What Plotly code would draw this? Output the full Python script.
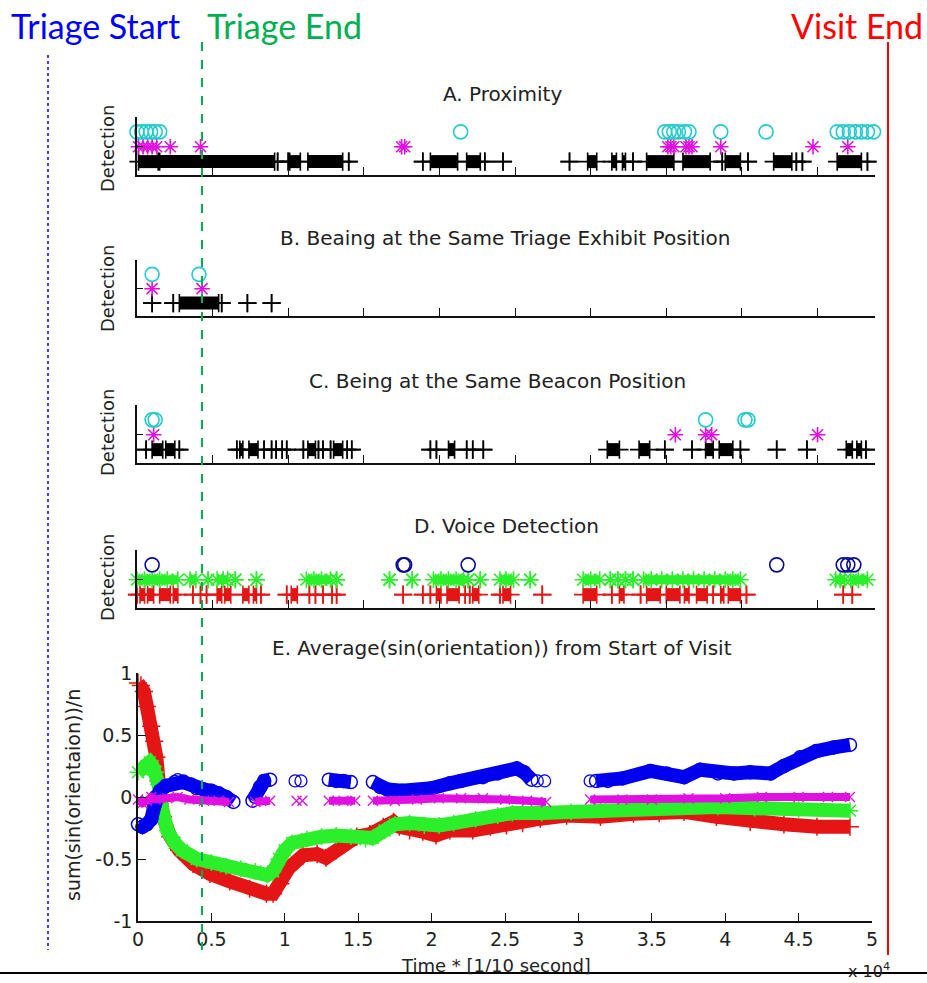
import plotly.graph_objects as go

# ---------------- data (time in units of 10^4 x 1/10 s) ----------------
# Panel A - Proximity
A_plus_start = [0.01, 0.15, 0.93, 1.00, 1.01, 1.13, 1.40, 1.89, 1.94, 2.18, 2.30, 2.42, 2.86, 2.98, 3.14, 3.21, 3.28, 3.37, 3.61, 3.87, 3.89, 4.04, 4.21, 4.36, 4.40, 4.63, 4.83]
A_plus_end   = [0.14, 0.91, 0.93, 1.00, 1.08, 1.36, 1.40, 1.89, 2.12, 2.27, 2.30, 2.42, 2.86, 3.04, 3.17, 3.23, 3.28, 3.55, 3.79, 3.87, 3.99, 4.04, 4.33, 4.36, 4.40, 4.79, 4.83]
A_star = [0.01, 0.04, 0.07, 0.10, 0.13, 0.22, 0.42, 1.75, 1.77, 3.51, 3.53, 3.55, 3.63, 3.65, 3.67, 3.86, 4.47, 4.70]
A_circ = [0.00, 0.03, 0.06, 0.09, 0.12, 0.15, 2.14, 3.49, 3.52, 3.55, 3.58, 3.62, 3.65, 3.86, 4.16, 4.63, 4.67, 4.71, 4.75, 4.79, 4.83, 4.87]

# Panel B - Being at the same triage exhibit position
B_plus_start = [0.10, 0.24, 0.28, 0.56, 0.73, 0.89]
B_plus_end   = [0.10, 0.24, 0.54, 0.56, 0.73, 0.89]
B_star = [0.10, 0.43]
B_circ = [0.10, 0.41]

# Panel C - Being at the same beacon position
C_plus_start = [0.06, 0.10, 0.19, 0.28, 0.66, 0.68, 0.74, 0.84, 0.89, 0.92, 0.96, 0.99, 1.10, 1.13, 1.20, 1.23, 1.28, 1.30, 1.39, 1.42, 1.94, 1.98, 2.06, 2.18, 2.22, 2.29, 3.11, 3.32, 3.49, 3.67, 3.76, 3.85, 3.99, 4.23, 4.43, 4.69, 4.76, 4.82]
C_plus_end   = [0.06, 0.17, 0.25, 0.28, 0.66, 0.70, 0.80, 0.84, 0.89, 0.92, 0.96, 0.99, 1.10, 1.18, 1.20, 1.23, 1.28, 1.36, 1.39, 1.42, 1.94, 1.98, 2.10, 2.18, 2.22, 2.29, 3.19, 3.39, 3.49, 3.67, 3.81, 3.94, 3.99, 4.23, 4.43, 4.73, 4.79, 4.82]
C_star = [0.11, 3.56, 3.76, 3.80, 4.50]
C_circ = [0.10, 0.12, 3.76, 4.02, 4.04]

# Panel D - Voice detection
D_red_start = [0.00, 0.02, 0.07, 0.15, 0.24, 0.37, 0.42, 0.46, 0.53, 0.58, 0.70, 0.77, 0.82, 0.99, 1.02, 1.14, 1.18, 1.23, 1.29, 1.32, 1.76, 1.89, 1.94, 1.98, 2.05, 2.17, 2.20, 2.22, 2.40, 2.42, 2.68, 2.95, 3.14, 3.19, 3.33, 3.37, 3.50, 3.62, 3.70, 3.81, 3.86, 3.91, 4.03, 4.67, 4.73]
D_red_end   = [0.00, 0.05, 0.11, 0.22, 0.27, 0.37, 0.42, 0.46, 0.56, 0.62, 0.74, 0.79, 0.82, 0.99, 1.06, 1.14, 1.18, 1.23, 1.29, 1.32, 1.76, 1.89, 1.94, 2.01, 2.13, 2.17, 2.20, 2.26, 2.40, 2.47, 2.68, 3.04, 3.14, 3.22, 3.33, 3.46, 3.59, 3.65, 3.77, 3.81, 3.88, 3.99, 4.03, 4.67, 4.73]
D_green_start = [0.00, 0.35, 0.47, 0.53, 0.65, 0.79, 1.12, 1.32, 1.67, 1.82, 1.96, 2.19, 2.27, 2.40, 2.60, 2.95, 3.13, 3.18, 3.23, 3.28, 3.35, 4.62, 4.72]
D_green_end   = [0.27, 0.39, 0.47, 0.60, 0.65, 0.79, 1.28, 1.32, 1.67, 1.82, 2.16, 2.19, 2.27, 2.49, 2.60, 3.06, 3.13, 3.18, 3.23, 3.28, 3.99, 4.68, 4.83]
D_green_inner = [0.05, 0.10, 0.15, 0.20, 0.57, 1.17, 1.22, 2.01, 2.06, 2.11, 2.44, 3.00, 3.40, 3.47, 3.54, 3.61, 3.68, 3.75, 3.82, 3.89, 3.94, 4.65, 4.77]
D_blue = [0.10, 1.76, 1.77, 2.19, 4.23, 4.67, 4.70, 4.74]

# Panel E - Average(sin(orientation)) from start of visit
E_red_x = [0.00, 0.02, 0.04, 0.06, 0.09, 0.11, 0.125, 0.14, 0.15, 0.17, 0.22, 0.28, 0.375, 0.49, 0.625, 0.76, 0.875, 0.92, 0.97, 1.03, 1.125, 1.22, 1.28, 1.35, 1.42, 1.49, 1.58, 1.67, 1.74, 1.78, 1.85, 1.94, 2.03, 2.125, 2.28, 2.40, 2.51, 2.62, 2.74, 2.92, 3.15, 3.375, 3.55, 3.72, 3.94, 4.17, 4.40, 4.625, 4.85]
E_red_y = [0.92, 0.90, 0.85, 0.73, 0.57, 0.45, 0.32, 0.13, 0.00, -0.16, -0.32, -0.43, -0.54, -0.62, -0.68, -0.74, -0.78, -0.78, -0.70, -0.57, -0.47, -0.46, -0.49, -0.43, -0.365, -0.32, -0.30, -0.24, -0.20, -0.24, -0.27, -0.28, -0.31, -0.27, -0.27, -0.24, -0.23, -0.21, -0.175, -0.15, -0.16, -0.135, -0.13, -0.12, -0.16, -0.20, -0.22, -0.24, -0.24]
E_green_x = [0.00, 0.03, 0.06, 0.08, 0.10, 0.12, 0.14, 0.155, 0.17, 0.20, 0.25, 0.30, 0.40, 0.50, 0.60, 0.70, 0.80, 0.88, 0.92, 0.96, 1.00, 1.05, 1.15, 1.25, 1.35, 1.45, 1.55, 1.60, 1.68, 1.75, 1.85, 1.95, 2.05, 2.15, 2.30, 2.45, 2.55, 2.75, 2.95, 3.15, 3.40, 3.70, 3.95, 4.20, 4.50, 4.85]
E_green_y = [0.20, 0.22, 0.25, 0.28, 0.25, 0.20, 0.10, -0.05, -0.15, -0.27, -0.37, -0.43, -0.50, -0.53, -0.56, -0.58, -0.60, -0.63, -0.60, -0.50, -0.43, -0.37, -0.34, -0.32, -0.31, -0.32, -0.34, -0.33, -0.27, -0.22, -0.21, -0.23, -0.23, -0.21, -0.18, -0.15, -0.13, -0.13, -0.12, -0.10, -0.08, -0.07, -0.08, -0.09, -0.10, -0.11]
E_blue_x = [0.00, 0.03, 0.06, 0.09, 0.11, 0.12, 0.15, 0.19, 0.25, 0.30, 0.36, 0.40, 0.45, 0.50, 0.55, 0.60, 0.65, None, 0.78, 0.80, 0.83, 0.86, 0.90, None, 1.30, 1.35, 1.40, 1.45, None, 1.60, 1.65, 1.70, 1.80, 1.90, 2.00, 2.125, 2.20, 2.35, 2.45, 2.58, 2.63, 2.68, None, 3.12, 3.20, 3.30, 3.49, 3.60, 3.72, 3.83, 3.95, 4.06, 4.17, 4.31, 4.40, 4.51, 4.62, 4.74, 4.85]
E_blue_y = [-0.22, -0.24, -0.22, -0.18, -0.08, 0.00, 0.05, 0.09, 0.12, 0.12, 0.10, 0.07, 0.06, 0.05, 0.03, 0.00, -0.04, None, -0.03, 0.00, 0.08, 0.13, 0.14, None, 0.14, 0.13, 0.13, 0.12, None, 0.12, 0.08, 0.06, 0.05, 0.05, 0.07, 0.11, 0.13, 0.16, 0.19, 0.23, 0.20, 0.14, None, 0.13, 0.13, 0.15, 0.21, 0.19, 0.16, 0.22, 0.19, 0.19, 0.20, 0.19, 0.25, 0.32, 0.37, 0.40, 0.42]
E_blue_open_x = [0.27, 0.31, 1.07, 1.11, 2.72, 2.77, 3.08]
E_blue_open_y = [0.14, 0.13, 0.13, 0.13, 0.13, 0.13, 0.13]
E_mag_x = [0.00, 0.03, 0.06, 0.09, 0.12, 0.20, 0.27, 0.35, 0.45, 0.55, 0.62, None, 0.80, 0.90, None, 1.30, 1.40, 1.48, None, 1.60, 1.75, 1.90, 2.05, 2.20, 2.35, 2.50, 2.65, 2.78, None, 3.08, 3.30, 3.50, 3.75, 4.00, 4.25, 4.50, 4.70, 4.85]
E_mag_y = [-0.02, -0.05, -0.03, 0.00, -0.02, -0.01, 0.00, -0.02, -0.03, -0.03, -0.04, None, -0.04, -0.03, None, -0.03, -0.03, -0.03, None, -0.03, -0.03, -0.02, -0.01, -0.01, -0.01, -0.02, -0.03, -0.04, None, -0.02, -0.02, -0.02, -0.01, -0.01, 0.00, 0.00, 0.00, 0.00]
E_mag_single_x = [1.08, 1.12]
E_mag_single_y = [-0.03, -0.03]

E_xticks = [0, 0.5, 1, 1.5, 2, 2.5, 3, 3.5, 4, 4.5, 5]
E_xticktext = ["0", "0.5", "1", "1.5", "2", "2.5", "3", "3.5", "4", "4.5", "5"]
E_yticks = [-1, -0.5, 0, 0.5, 1]
E_yticktext = ["-1", "-0.5", "0", "0.5", "1"]

titles = ["A. Proximity",
          "B. Beaing at the Same Triage Exhibit Position",
          "C. Being at the Same Beacon Position",
          "D. Voice Detection",
          "E. Average(sin(orientation)) from Start of Visit"]

# ---------------- styling / layout ----------------
W, H = 927, 983
def fx(p):
    return p / W
def fy(p):
    return 1 - p / H

MFONT = "DejaVu Sans"
CYAN = "#22CCCC"
MAG = "#E010E0"
BLK = "#000000"
GRN = "#2BEF2B"
RED = "#E41515"
NAVY = "#0A0A9A"
BLUE = "#0000EE"

Y_PLUS, Y_STAR, Y_CIRC = 1, 2, 3

fig = go.Figure()

def segs(starts, ends, yv):
    xs, ys = [], []
    for s, e in zip(starts, ends):
        xs += [s, e, None]
        ys += [yv, yv, None]
    return xs, ys

def add_interval_row(starts, ends, yv, color, symbol, ax, lw=13, msize=13, extra=None):
    xs, ys = segs(starts, ends, yv)
    fig.add_trace(go.Scatter(x=xs, y=ys, mode="lines", line=dict(color=color, width=lw),
                             xaxis=ax[0], yaxis=ax[1], cliponaxis=False, hoverinfo="skip"))
    mx = list(starts) + list(ends) + (list(extra) if extra else [])
    fig.add_trace(go.Scatter(x=mx, y=[yv] * len(mx), mode="markers",
                             marker=dict(symbol=symbol, size=msize, color=color,
                                         line=dict(color=color, width=1.6)),
                             xaxis=ax[0], yaxis=ax[1], cliponaxis=False, hoverinfo="skip"))

def add_points_row(xs, yv, color, symbol, ax, msize=13, lw=1.6):
    fig.add_trace(go.Scatter(x=xs, y=[yv] * len(xs), mode="markers",
                             marker=dict(symbol=symbol, size=msize, color=color,
                                         line=dict(color=color, width=lw)),
                             xaxis=ax[0], yaxis=ax[1], cliponaxis=False, hoverinfo="skip"))

axA = ("x", "y")
axB = ("x2", "y2")
axC = ("x3", "y3")
axD = ("x4", "y4")

# Panel A
add_interval_row(A_plus_start, A_plus_end, Y_PLUS, BLK, "cross-thin-open", axA)
add_points_row(A_star, Y_STAR, MAG, "asterisk-open", axA)
add_points_row(A_circ, Y_CIRC, CYAN, "circle-open", axA, msize=14)
# Panel B
add_interval_row(B_plus_start, B_plus_end, Y_PLUS, BLK, "cross-thin-open", axB)
add_points_row(B_star, Y_STAR, MAG, "asterisk-open", axB)
add_points_row(B_circ, Y_CIRC, CYAN, "circle-open", axB, msize=14)
# Panel C
add_interval_row(C_plus_start, C_plus_end, Y_PLUS, BLK, "cross-thin-open", axC)
add_points_row(C_star, Y_STAR, MAG, "asterisk-open", axC)
add_points_row(C_circ, Y_CIRC, CYAN, "circle-open", axC, msize=14)
# Panel D
add_interval_row(D_red_start, D_red_end, Y_PLUS, RED, "cross-thin-open", axD)
add_interval_row(D_green_start, D_green_end, Y_STAR, GRN, "asterisk-open", axD, lw=9, msize=14,
                 extra=D_green_inner)
add_points_row(D_blue, Y_CIRC, NAVY, "circle-open", axD, msize=14)

# Panel E
fig.add_trace(go.Scatter(x=E_red_x, y=E_red_y, mode="lines+markers",
                         line=dict(color=RED, width=14),
                         marker=dict(symbol="cross-thin-open", size=13, color=RED, line=dict(color=RED, width=1.5)),
                         xaxis="x5", yaxis="y5", cliponaxis=False, hoverinfo="skip"))
fig.add_trace(go.Scatter(x=E_green_x, y=E_green_y, mode="lines+markers",
                         line=dict(color=GRN, width=14),
                         marker=dict(symbol="asterisk-open", size=14, color=GRN, line=dict(color=GRN, width=1.5)),
                         xaxis="x5", yaxis="y5", cliponaxis=False, hoverinfo="skip"))
fig.add_trace(go.Scatter(x=E_blue_x, y=E_blue_y, mode="lines+markers",
                         line=dict(color=BLUE, width=14),
                         marker=dict(symbol="circle-open", size=13, color=BLUE, line=dict(color=BLUE, width=1.5)),
                         xaxis="x5", yaxis="y5", cliponaxis=False, hoverinfo="skip"))
fig.add_trace(go.Scatter(x=E_blue_open_x, y=E_blue_open_y, mode="markers",
                         marker=dict(symbol="circle-open", size=12, color=BLUE, line=dict(color=BLUE, width=1.3)),
                         xaxis="x5", yaxis="y5", cliponaxis=False, hoverinfo="skip"))
fig.add_trace(go.Scatter(x=E_mag_x, y=E_mag_y, mode="lines+markers",
                         line=dict(color=MAG, width=8),
                         marker=dict(symbol="x-thin-open", size=10, color=MAG, line=dict(color=MAG, width=1.3)),
                         xaxis="x5", yaxis="y5", cliponaxis=False, hoverinfo="skip"))
fig.add_trace(go.Scatter(x=E_mag_single_x, y=E_mag_single_y, mode="markers",
                         marker=dict(symbol="x-thin-open", size=10, color=MAG, line=dict(color=MAG, width=1.3)),
                         xaxis="x5", yaxis="y5", cliponaxis=False, hoverinfo="skip"))

# detection panel geometry (pixel top, bottom)
det_panels = [(117, 175), (260, 316), (405, 463), (550, 608)]
det_x0, det_x1 = 137, 875
layout = dict(width=W, height=H, margin=dict(l=0, r=0, t=0, b=0, pad=0), autosize=False,
              paper_bgcolor="white", plot_bgcolor="white", showlegend=False,
              font=dict(family=MFONT, color="#222222"))

for i, (top, bot) in enumerate(det_panels):
    suffix = "" if i == 0 else str(i + 1)
    layout["xaxis" + suffix] = dict(domain=[fx(det_x0), fx(det_x1)], range=[0, 4.88],
                                    anchor="y" + suffix, showline=True, linecolor="#111", linewidth=1.5,
                                    ticks="inside", ticklen=8, tickwidth=1.3, tickcolor="#111",
                                    tickvals=[0.5, 1, 1.5, 2, 2.5, 3, 3.5, 4, 4.5],
                                    showticklabels=False, showgrid=False, zeroline=False, automargin=False)
    layout["yaxis" + suffix] = dict(domain=[fy(bot), fy(top)], range=[0.1, 4.0],
                                    anchor="x" + suffix, showline=True, linecolor="#111", linewidth=1.5,
                                    ticks="inside", ticklen=6, tickwidth=1.3, tickcolor="#111",
                                    tickvals=[2, 4], showticklabels=False, showgrid=False, zeroline=False,
                                    automargin=False)

layout["xaxis5"] = dict(domain=[fx(138), fx(872)], range=[0, 5], anchor="y5",
                        showline=True, linecolor="#111", linewidth=1.5,
                        ticks="inside", ticklen=8, tickwidth=1.3, tickcolor="#111",
                        tickvals=E_xticks, ticktext=E_xticktext,
                        tickfont=dict(family=MFONT, size=19, color="#222"),
                        showgrid=False, zeroline=False, automargin=False)
layout["yaxis5"] = dict(domain=[fy(921), fy(673)], range=[-1, 1], anchor="x5",
                        showline=True, linecolor="#111", linewidth=1.5,
                        ticks="inside", ticklen=8, tickwidth=1.3, tickcolor="#111",
                        tickvals=E_yticks, ticktext=E_yticktext,
                        tickfont=dict(family=MFONT, size=19, color="#222"),
                        showgrid=False, zeroline=False, automargin=False)

annotations = []
title_pos = [(503, 94), (505, 238), (498, 381), (506, 526), (502, 648)]
for t, (px, py) in zip(titles, title_pos):
    annotations.append(dict(text=t, x=fx(px), y=fy(py), xref="paper", yref="paper",
                            xanchor="center", yanchor="middle", showarrow=False,
                            font=dict(family=MFONT, size=20, color="#222")))
for py in [149, 289, 433, 578]:
    annotations.append(dict(text="Detection", x=fx(107), y=fy(py), xref="paper", yref="paper",
                            xanchor="center", yanchor="middle", textangle=-90, showarrow=False,
                            font=dict(family=MFONT, size=18, color="#222")))
annotations.append(dict(text="sum(sin(orientaion))/n", x=fx(73), y=fy(795), xref="paper", yref="paper",
                        xanchor="center", yanchor="middle", textangle=-90, showarrow=False,
                        font=dict(family=MFONT, size=19, color="#222")))
annotations.append(dict(text="Time * [1/10 second]", x=fx(496), y=fy(965), xref="paper", yref="paper",
                        xanchor="center", yanchor="middle", showarrow=False,
                        font=dict(family=MFONT, size=18, color="#222")))
annotations.append(dict(text="x 10<sup>4</sup>", x=fx(846), y=fy(958), xref="paper", yref="paper",
                        xanchor="left", yanchor="top", showarrow=False,
                        font=dict(family=MFONT, size=16, color="#222")))
# header labels
annotations.append(dict(text="Triage Start", x=fx(9), y=fy(25), xref="paper", yref="paper",
                        xanchor="left", yanchor="middle", showarrow=False,
                        font=dict(family="Lato", size=34, color="#0000FF")))
annotations.append(dict(text="Triage End", x=fx(205), y=fy(25), xref="paper", yref="paper",
                        xanchor="left", yanchor="middle", showarrow=False,
                        font=dict(family="Lato", size=34, color="#00B050")))
annotations.append(dict(text="Visit End", x=fx(925), y=fy(25), xref="paper", yref="paper",
                        xanchor="right", yanchor="middle", showarrow=False,
                        font=dict(family="Lato", size=34, color="#FF0000")))
layout["annotations"] = annotations

layout["shapes"] = [
    dict(type="line", xref="paper", yref="paper", x0=fx(48), x1=fx(48), y0=fy(55), y1=fy(950),
         line=dict(color="#0000FF", width=1.5, dash="dot")),
    dict(type="line", xref="paper", yref="paper", x0=fx(202), x1=fx(202), y0=fy(42), y1=fy(950),
         line=dict(color="#00B050", width=2, dash="dash")),
    dict(type="line", xref="paper", yref="paper", x0=fx(888), x1=fx(888), y0=fy(42), y1=fy(955),
         line=dict(color="#FF0000", width=2)),
    dict(type="line", xref="paper", yref="paper", x0=0, x1=1, y0=fy(973), y1=fy(973),
         line=dict(color="#000000", width=2)),
]

fig.update_layout(**layout)
fig.write_html("out.html", config={"displayModeBar": False},
               post_script="document.body.style.margin='0';document.body.style.overflow='hidden';")
